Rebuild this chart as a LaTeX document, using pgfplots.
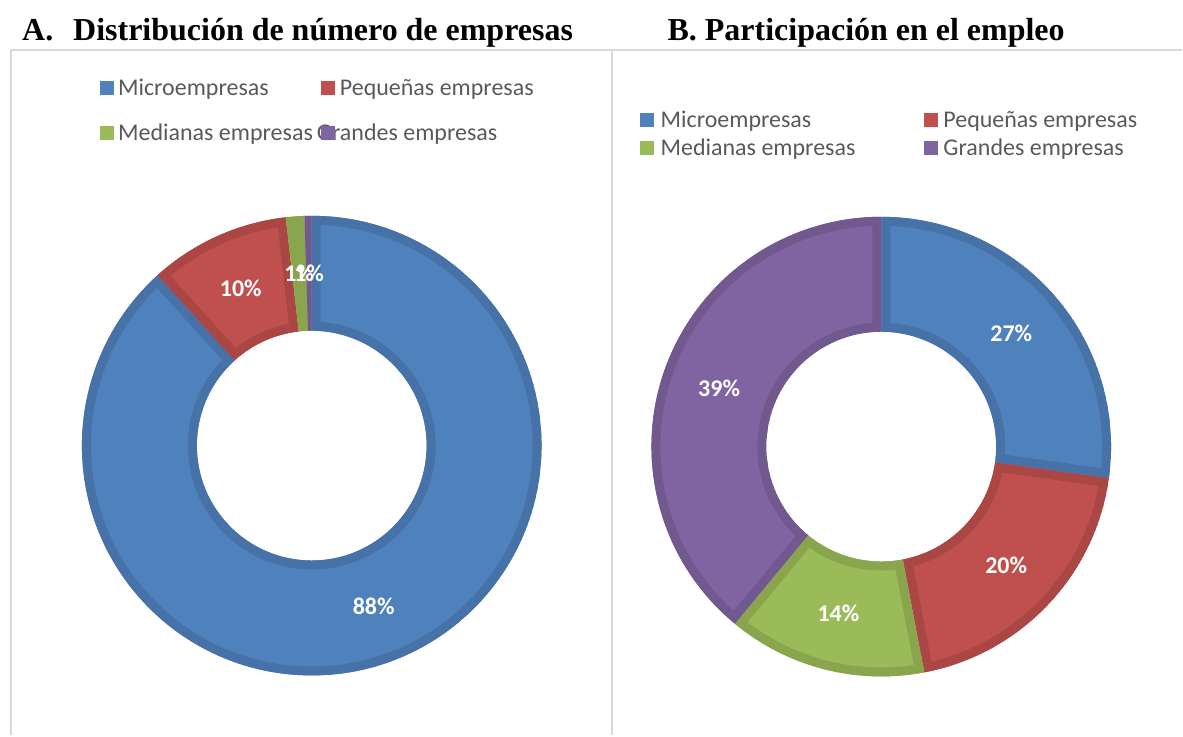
\documentclass[border=0pt]{standalone}
\usepackage{pgfplots}
\usepackage{pgfplotstable}
\usepackage{fontspec}
\setmainfont{Liberation Serif}
\newfontfamily\calibri{Carlito}
\pgfplotsset{compat=1.18}
\definecolor{lblue}{HTML}{4F81BD}\definecolor{dblue}{HTML}{4672A8}
\definecolor{lred}{HTML}{C0504D}\definecolor{dred}{HTML}{AA4643}
\definecolor{lgreen}{HTML}{9BBB59}\definecolor{dgreen}{HTML}{89A54E}
\definecolor{lpurple}{HTML}{8064A2}\definecolor{dpurple}{HTML}{71588F}
\definecolor{legtext}{HTML}{595959}
\definecolor{framec}{HTML}{D9D9D9}

% A. Distribucion de numero de empresas (%)
\pgfplotstableread{
name value label
Microempresas 88.3 88
Pequenas 9.9 10
Medianas 1.3 1
Grandes 0.5 1
}\tableA
% B. Participacion en el empleo (%)
\pgfplotstableread{
name value label
Microempresas 27.2 27
Pequenas 19.8 20
Medianas 14.0 14
Grandes 39.0 39
}\tableB

\newcommand\donut[3]{%
  \xdef\cum{0}%
  \foreach \i/\lc/\dc in {0/lblue/dblue,1/lred/dred,2/lgreen/dgreen,3/lpurple/dpurple}{%
    \pgfplotstablegetelem{\i}{value}\of#1\let\v\pgfplotsretval
    \pgfmathsetmacro\a{90-3.6*\cum}%
    \pgfmathsetmacro\b{90-3.6*(\cum+\v)}%
    \pgfmathsetmacro\xa{#2+230*cos(\a)}\pgfmathsetmacro\ya{#3+230*sin(\a)}%
    \pgfmathsetmacro\xb{#2+115*cos(\b)}\pgfmathsetmacro\yb{#3+115*sin(\b)}%
    \begin{scope}
      \clip (axis cs:\xa,\ya) arc[start angle=\a,end angle=\b,radius=230bp] -- (axis cs:\xb,\yb) arc[start angle=\b,end angle=\a,radius=115bp] -- cycle;
      \fill[\lc] (axis cs:\xa,\ya) arc[start angle=\a,end angle=\b,radius=230bp] -- (axis cs:\xb,\yb) arc[start angle=\b,end angle=\a,radius=115bp] -- cycle;
      \draw[\dc,line width=18bp,line join=miter] (axis cs:\xa,\ya) arc[start angle=\a,end angle=\b,radius=230bp] -- (axis cs:\xb,\yb) arc[start angle=\b,end angle=\a,radius=115bp] -- cycle;
    \end{scope}
    \pgfmathsetmacro\c{\cum+\v}\xdef\cum{\c}%
  }%
  \xdef\cum{0}%
  \foreach \i in {0,...,3}{%
    \pgfplotstablegetelem{\i}{value}\of#1\let\v\pgfplotsretval
    \pgfplotstablegetelem{\i}{label}\of#1\let\lab\pgfplotsretval
    \pgfmathsetmacro\m{90-3.6*(\cum+\v/2)}%
    \pgfmathsetmacro\xm{#2+172.5*cos(\m)}\pgfmathsetmacro\ym{#3+172.5*sin(\m)}%
    \node[text=white,inner sep=0,font=\calibri\bfseries\fontsize{24bp}{26bp}\selectfont] at (axis cs:\xm,\ym) {\lab\%};
    \pgfmathsetmacro\c{\cum+\v}\xdef\cum{\c}%
  }%
}
\newcommand\legentry[3]{%
  \fill[#3] (axis cs:#1,#2-7) rectangle (axis cs:#1+14,#2+7);
}
\newcommand\legtext[3]{%
  \node[anchor=base west,inner sep=0,text=legtext,font=\calibri\fontsize{24bp}{28bp}\selectfont] at (axis cs:#1,#2-8) {#3};
}

\begin{document}
\begin{tikzpicture}
\begin{axis}[x=1bp,y=1bp,xmin=0,xmax=1183,ymin=0,ymax=736,hide axis,clip=false]
\pgfplotsextra{%
  \path (axis cs:0,0) rectangle (axis cs:1183,736);
  \draw[framec,line width=2bp] (axis cs:11,0) -- (axis cs:11,686) -- (axis cs:613,686) -- (axis cs:613,0);
  \draw[framec,line width=2bp] (axis cs:613,686) -- (axis cs:1183,686);
  \node[anchor=base west,inner sep=0,font=\bfseries\fontsize{32bp}{36bp}\selectfont] at (axis cs:22,695) {A.\hspace{20bp}Distribución de número de empresas};
  \node[anchor=base west,inner sep=0,font=\bfseries\fontsize{32bp}{36bp}\selectfont] at (axis cs:668,695) {B. Participación en el empleo};
  \donut{\tableA}{312}{290}
  \donut{\tableB}{882}{289}
  % legend A
  \legtext{118}{648}{Microempresas}
  \legtext{340}{648}{Pequeñas empresas}
  \legtext{118}{603}{Medianas empresas}
  \legtext{317}{603}{Grandes empresas}
  \legentry{100}{648}{lblue}
  \legentry{321}{648}{lred}
  \legentry{100}{603}{lgreen}
  \legentry{321}{603}{lpurple}
  % legend B
  \legtext{661}{616}{Microempresas}
  \legtext{944}{616}{Pequeñas empresas}
  \legtext{661}{588}{Medianas empresas}
  \legtext{944}{588}{Grandes empresas}
  \legentry{641}{616}{lblue}
  \legentry{925}{616}{lred}
  \legentry{641}{588}{lgreen}
  \legentry{925}{588}{lpurple}
}
\end{axis}
\end{tikzpicture}
\end{document}
